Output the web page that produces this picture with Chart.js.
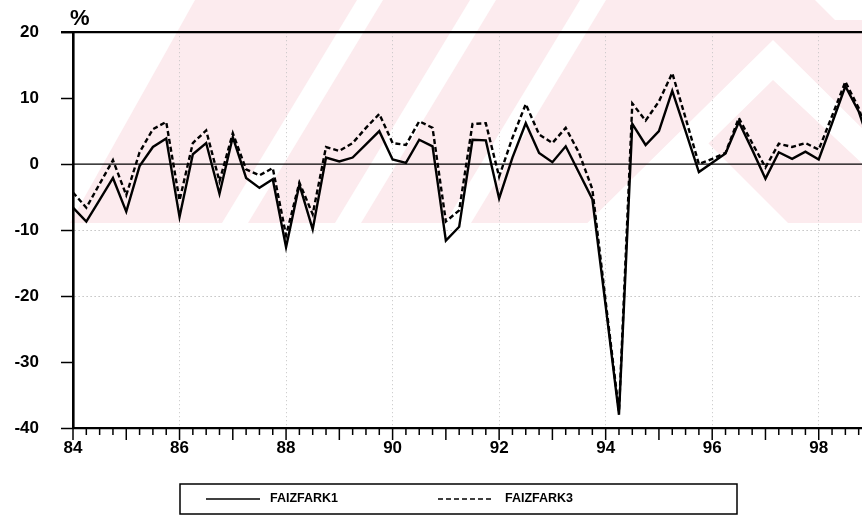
<!DOCTYPE html>
<html>
<head>
<meta charset="utf-8">
<script src="https://cdn.jsdelivr.net/npm/chart.js@4.4.0/dist/chart.umd.min.js"></script>
<style>
html, body { margin: 0; padding: 0; background: #fff; overflow: hidden; }
</style>
</head>
<body>
<canvas id="spreadChart" width="882" height="519"></canvas>
<script>
// quarterly interest-rate spread, 1984Q1 .. 1999Q1
const years = ['84', '85', '86', '87', '88', '89', '90', '91', '92', '93', '94', '95', '96', '97', '98', '99'];
const quarters = ['Q1', 'Q2', 'Q3', 'Q4'];
const faizfark1 = [
  -6.6, -8.7, -5.4, -2.1, -7.2, -0.3, 2.6, 3.9,
  -8.0, 1.5, 3.2, -4.5, 4.1, -2.1, -3.6, -2.3,
  -12.6, -3.1, -9.9, 1.0, 0.4, 1.0, 3.0, 5.0,
  0.7, 0.2, 3.7, 2.7, -11.6, -9.5, 3.7, 3.6,
  -5.2, 1.0, 6.2, 1.7, 0.3, 2.7, -1.3, -5.3,
  -21.5, -38.0, 6.1, 2.9, 5.0, 11.1, 5.0, -1.2,
  0.2, 1.6, 6.4, 2.2, -2.2, 1.8, 0.8, 1.9,
  0.7, 6.2, 11.8, 8.0, 2.0
];
const faizfark3 = [
  -4.3, -6.6, -3.0, 0.6, -4.7, 1.8, 5.3, 6.4,
  -5.5, 3.2, 5.1, -2.6, 4.7, -0.8, -1.7, -0.6,
  -10.8, -2.8, -7.6, 2.6, 2.0, 3.2, 5.5, 7.6,
  3.2, 2.9, 6.5, 5.5, -8.7, -7.0, 6.1, 6.2,
  -1.9, 4.0, 9.1, 4.5, 3.2, 5.5, 1.7, -3.8,
  -20.8, -37.5, 9.2, 6.6, 9.5, 13.8, 7.0, 0.0,
  0.8, 1.7, 7.0, 3.2, -0.5, 3.1, 2.6, 3.2,
  2.2, 7.3, 12.5, 8.5, 2.5
];
const yTicks = [-40, -30, -20, -10, 0, 10, 20];
const seriesNames = ['FAIZFARK1', 'FAIZFARK3'];

const labels = years.flatMap(y => quarters.map(q => y + q)).slice(0, faizfark1.length);
const tickFont = { family: 'Liberation Sans', size: 17, weight: 'bold' };

// scanned watermark in the upper part of the page
function drawWatermark(ctx) {
  ctx.save();
  ctx.beginPath();
  ctx.rect(0, 0, 882, 223);
  ctx.clip();
  ctx.fillStyle = '#fcebee';
  ctx.fillRect(0, 0, 882, 223);
  ctx.fillStyle = '#ffffff';
  const poly = pts => { ctx.beginPath(); pts.forEach((p, i) => i ? ctx.lineTo(p[0], p[1]) : ctx.moveTo(p[0], p[1])); ctx.closePath(); ctx.fill(); };
  poly([[0, 0], [195, 0], [70, 223], [0, 223]]);
  [222, 335, 445].forEach(x0 => {
    poly([[x0, 223], [x0 + 26, 223], [x0 + 26 + 135, 0], [x0 + 135, 0]]);
  });
  poly([[585, 235], [690, 125], [800, 235]]);
  poly([[560, 250], [773, 40], [990, 255], [960, 255], [773, 80], [600, 250]]);
  poly([[815, 0], [882, 0], [882, 20], [835, 20]]);
  ctx.restore();
}

const decor = {
  id: 'decor',
  beforeDraw(chart) {
    const ctx = chart.ctx;
    ctx.save();
    ctx.fillStyle = '#fff';
    ctx.fillRect(0, 0, chart.width, chart.height);
    ctx.restore();
    drawWatermark(ctx);
  },
  beforeDatasetsDraw(chart) {
    const { ctx, chartArea, scales } = chart;
    ctx.save();
    ctx.strokeStyle = '#000';
    ctx.lineWidth = 1.2;
    const y0 = scales.y.getPixelForValue(0);
    ctx.beginPath(); ctx.moveTo(chartArea.left, y0); ctx.lineTo(chartArea.right, y0); ctx.stroke();
    ctx.lineWidth = 2.2;
    const yTop = scales.y.getPixelForValue(20);
    ctx.beginPath(); ctx.moveTo(chartArea.left - 12, yTop); ctx.lineTo(chartArea.right, yTop); ctx.stroke();
    ctx.restore();
  },
  afterDraw(chart) {
    const { ctx, chartArea, scales } = chart;
    ctx.save();
    // quarter ticks, longer at each year
    ctx.strokeStyle = '#000';
    ctx.lineWidth = 1.5;
    labels.forEach((l, i) => {
      const x = scales.x.getPixelForValue(i);
      ctx.beginPath();
      ctx.moveTo(x, chartArea.bottom);
      ctx.lineTo(x, chartArea.bottom + (i % 4 === 0 ? 12 : 7));
      ctx.stroke();
    });
    // percent sign
    ctx.fillStyle = '#000';
    ctx.font = 'bold 22px "Liberation Sans"';
    ctx.textBaseline = 'alphabetic';
    ctx.fillText('%', chartArea.left - 3, 25);
    // legend box
    ctx.lineWidth = 1.5;
    ctx.strokeRect(180, 484, 557, 30);
    ctx.font = 'bold 12.5px "Liberation Sans"';
    ctx.textBaseline = 'middle';
    const items = [[206, 270], [438, 505]];
    chart.data.datasets.forEach((ds, k) => {
      const [lx, tx] = items[k];
      ctx.setLineDash(ds.borderDash || []);
      ctx.lineWidth = 1.3;
      ctx.beginPath(); ctx.moveTo(lx, 499); ctx.lineTo(lx + 54, 499); ctx.stroke();
      ctx.setLineDash([]);
      ctx.fillText(ds.label, tx, 499);
    });
    ctx.restore();
  }
};

new Chart(document.getElementById('spreadChart'), {
  type: 'line',
  data: {
    labels: labels,
    datasets: [
      { label: seriesNames[0], data: faizfark1, borderColor: '#000', borderWidth: 2.4, pointRadius: 0, tension: 0 },
      { label: seriesNames[1], data: faizfark3, borderColor: '#000', borderWidth: 2.4, borderDash: [5, 3], pointRadius: 0, tension: 0 }
    ]
  },
  options: {
    responsive: false,
    animation: false,
    layout: { padding: { top: 30, right: 2, left: 0, bottom: 0 } },
    plugins: { legend: { display: false }, tooltip: { enabled: false } },
    scales: {
      x: {
        type: 'category',
        offset: false,
        grid: {
          color: c => (c.index % 8 === 0 && c.index > 0) ? '#c4c4c4' : 'rgba(0,0,0,0)',
          drawTicks: false
        },
        border: { color: '#000', width: 2.2, dash: [1, 3] },
        ticks: {
          autoSkip: false, maxRotation: 0, padding: 10, color: '#000', font: tickFont,
          callback: (v, i) => i % 8 === 0 ? labels[i].slice(0, 2) : ''
        },
        afterFit: s => { s.height = 91; }
      },
      y: {
        min: -40, max: 20,
        afterBuildTicks: s => { s.ticks = yTicks.map(v => ({ value: v })); },
        grid: {
          color: c => [-10, -20].includes(c.tick.value) ? '#a5a5a5' : 'rgba(0,0,0,0)',
          tickColor: '#000', tickLength: 12, tickWidth: 1.5
        },
        border: { color: '#000', width: 2.6, dash: [1, 3] },
        ticks: { padding: 22, color: '#000', font: tickFont },
        afterFit: s => { s.width = 73; }
      }
    }
  },
  plugins: [decor]
});
</script>
</body>
</html>
